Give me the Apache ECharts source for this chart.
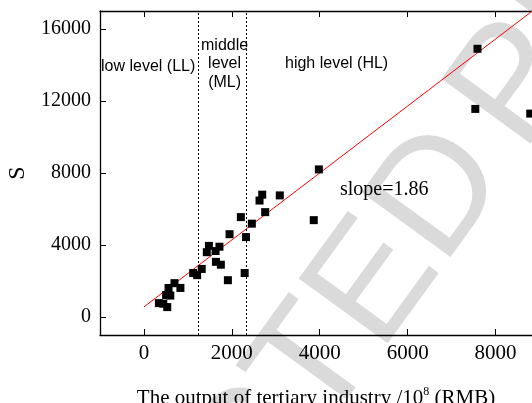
<!DOCTYPE html>
<html>
<head>
<meta charset="utf-8">
<script src="https://cdn.jsdelivr.net/npm/echarts@6/dist/echarts.min.js"></script>
<style>
html, body { margin: 0; padding: 0; background: #fff; }
#main { width: 532px; height: 403px; }
</style>
</head>
<body>
<div id="main"></div>
<script>
// tertiary industry output (10^8 RMB) vs S
var xData = [340, 440, 530, 505, 600, 560, 695, 830, 1120, 1210, 1315, 1430, 1478, 1630, 1718,
    1638, 1750, 1910, 1948, 2292, 2322, 2205, 2455, 2759, 2630, 2691, 3091, 3864, 3980, 7590, 7540, 8790];
var yData = [770, 740, 550, 1220, 1190, 1610, 1880, 1615, 2445, 2325, 2670, 3600, 3950, 3665, 3905,
    3064, 2905, 2045, 4600, 2445, 4440, 5550, 5186, 5825, 6470, 6795, 6755, 5380, 8200, 14900, 11560, 11300];
// fitted line, slope = 1.86
var fitX = [0, 8830];
var fitY = [560, 16985];
// level boundaries
var levelBounds = [1230, 2330];
var xTicks = [0, 2000, 4000, 6000, 8000];
var yTicks = [0, 4000, 8000, 12000, 16000];

var points = xData.map(function (x, i) { return [x, yData[i]]; });
var fitLine = fitX.map(function (x, i) { return [x, fitY[i]]; });

var serif = "'Liberation Serif', 'Times New Roman', serif";
var sans = "'Liberation Sans', Arial, sans-serif";
var plain = function (v) { return String(v); };
var markAngle = 54 * Math.PI / 180;

var myChart = echarts.init(document.getElementById('main'));
myChart.setOption({
    animation: false,
    grid: {
        left: 100,
        right: 0,
        top: 11,
        bottom: 68,
        containLabel: false,
        outerBoundsMode: 'none'
    },
    xAxis: [{
        type: 'value',
        min: -1000,
        max: 8830,
        position: 'bottom',
        name: 'The output of tertiary industry /10{sup|8} (RMB)',
        nameLocation: 'middle',
        nameGap: 51,
        nameTextStyle: {
            fontFamily: serif,
            fontSize: 21,
            color: '#000',
            rich: {
                sup: { fontFamily: serif, fontSize: 12, color: '#000', padding: [0, 0, 12, 0] }
            }
        },
        axisLine: { show: true, onZero: false, lineStyle: { color: '#000', width: 1.3 } },
        axisTick: { show: true, inside: true, length: 6, customValues: xTicks, lineStyle: { color: '#000' } },
        axisLabel: { customValues: xTicks, formatter: plain, margin: 8, fontFamily: serif, fontSize: 21, color: '#000' },
        splitLine: { show: false }
    }, {
        type: 'value',
        min: -1000,
        max: 8830,
        position: 'top',
        axisLine: { show: true, onZero: false, lineStyle: { color: '#000', width: 1.3 } },
        axisTick: { show: true, inside: true, length: 6, customValues: xTicks, lineStyle: { color: '#000' } },
        axisLabel: { show: false },
        splitLine: { show: false }
    }],
    yAxis: {
        type: 'value',
        min: -1000,
        max: 17000,
        name: 'S',
        nameLocation: 'middle',
        nameRotate: 90,
        nameGap: 66,
        nameTextStyle: { fontFamily: serif, fontSize: 24, color: '#000' },
        axisLine: { show: true, onZero: false, lineStyle: { color: '#000', width: 1.3 } },
        axisTick: { show: true, inside: true, length: 6, customValues: yTicks, lineStyle: { color: '#000' } },
        axisLabel: { customValues: yTicks, formatter: plain, margin: 9, fontFamily: serif, fontSize: 20, color: '#000' },
        splitLine: { show: false }
    },
    graphic: [{
        // watermark, first word ends at the D
        type: 'text',
        z: -10,
        x: 475,
        y: 148,
        rotation: markAngle,
        silent: true,
        style: {
            text: 'UNCORRECTED',
            x: 0,
            y: 0,
            textAlign: 'right',
            textVerticalAlign: 'middle',
            fontFamily: sans,
            fontSize: 160,
            fill: '#dadada'
        }
    }, {
        type: 'text',
        z: -10,
        x: 487,
        y: 128,
        rotation: markAngle,
        silent: true,
        style: {
            text: 'PROOF',
            x: 0,
            y: 0,
            textAlign: 'left',
            textVerticalAlign: 'middle',
            fontFamily: sans,
            fontSize: 160,
            fill: '#dadada'
        }
    }, {
        type: 'text',
        left: 101,
        top: 59,
        style: { text: 'low level (LL)', fontFamily: sans, fontSize: 16, fill: '#000' }
    }, {
        type: 'text',
        left: 201,
        top: 36,
        style: {
            text: 'middle\nlevel\n(ML)',
            fontFamily: sans,
            fontSize: 16,
            lineHeight: 18.5,
            textAlign: 'center',
            fill: '#000'
        }
    }, {
        type: 'text',
        left: 285,
        top: 56,
        style: { text: 'high level (HL)', fontFamily: sans, fontSize: 16, fill: '#000' }
    }, {
        type: 'text',
        left: 340,
        top: 180,
        style: { text: 'slope=1.86', fontFamily: serif, fontSize: 20, fill: '#000' }
    }],
    series: [{
        name: 'fit',
        type: 'line',
        data: fitLine,
        symbol: 'none',
        lineStyle: { color: '#ff0000', width: 1 },
        z: 3,
        markLine: {
            silent: true,
            symbol: 'none',
            label: { show: false },
            lineStyle: { color: '#000', width: 1, type: [2, 2] },
            data: levelBounds.map(function (v) { return { xAxis: v }; })
        }
    }, {
        name: 'S',
        type: 'scatter',
        data: points,
        symbol: 'rect',
        symbolSize: 8,
        itemStyle: { color: '#000', opacity: 1 },
        z: 4
    }]
});
</script>
</body>
</html>
